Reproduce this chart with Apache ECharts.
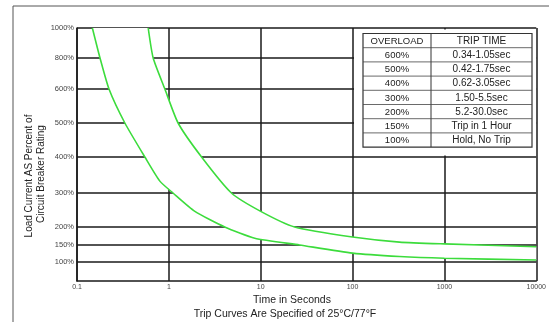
<!DOCTYPE html>
<html>
<head>
<meta charset="utf-8">
<title>Trip curves</title>
<script src="https://cdn.jsdelivr.net/npm/echarts@6/dist/echarts.min.js"></script>
<style>
  html, body { margin: 0; padding: 0; background: #fff; }
  #chart { width: 549px; height: 322px; }
</style>
</head>
<body>
<div id="chart"></div>
<script>
// the scan's y scale is irregular: every label gets its own height above the x axis
var yTickLabels = [100, 150, 200, 300, 400, 500, 600, 800, 1000];
var yTickHeights = [19, 36, 54, 88, 124, 158, 192, 223, 253];

var xTicks = [0.1, 1, 10, 100, 1000, 10000];

// lower (fast) trip curve: seconds / percent load
var fastTime = [0.147, 0.178, 0.223, 0.332, 0.548, 0.798, 1.11, 1.92, 4.06, 8.61, 26.5, 100, 324, 1000, 10000];
var fastLoad = [1000, 800, 600, 500, 400, 333, 300, 246, 200, 169, 150, 126, 116, 111, 106];

// upper (slow) trip curve
var slowTime = [0.596, 0.675, 0.905, 1.26, 2.27, 4.8, 10, 23.4, 100, 324, 1000, 10000];
var slowLoad = [1000, 800, 600, 500, 400, 300, 246, 200, 172, 158, 153, 145];

// table
var overload = ['600%', '500%', '400%', '300%', '200%', '150%', '100%'];
var tripTime = ['0.34-1.05sec', '0.42-1.75sec', '0.62-3.05sec', '1.50-5.5sec', '5.2-30.0sec', 'Trip in 1 Hour', 'Hold, No Trip'];

var anchorsP = [50].concat(yTickLabels);
var anchorsH = [0].concat(yTickHeights);

// percent -> position on the (piecewise) y axis
function toAxis(p) {
    for (var i = 1; i < anchorsP.length; i++) {
        if (p <= anchorsP[i]) {
            var f = (p - anchorsP[i - 1]) / (anchorsP[i] - anchorsP[i - 1]);
            return anchorsH[i - 1] + f * (anchorsH[i] - anchorsH[i - 1]);
        }
    }
    return anchorsH[anchorsH.length - 1];
}

function pairs(ts, ps) {
    return ts.map(function (t, i) { return [t, toAxis(ps[i])]; });
}
var fastData = pairs(fastTime, fastLoad);
var slowData = pairs(slowTime, slowLoad);

var chart = echarts.init(document.getElementById('chart'));

var font = 'Liberation Sans, Arial, sans-serif';
var gridColor = '#1a1a1a';
var curveColor = '#3cdc3c';

// table graphics
var tLeft = 363, tRight = 532, tDiv = 431, tTop = 33.5, rowH = 14.2;
var tableEls = [];
tableEls.push({
    type: 'rect', shape: { x: 354, y: 29.5, width: 182, height: 126 },
    style: { fill: '#fff' }, z: 10
});
var rows = [['OVERLOAD', 'TRIP TIME']].concat(overload.map(function (o, i) { return [o, tripTime[i]]; }));
tableEls.push({
    type: 'rect', shape: { x: tLeft, y: tTop, width: tRight - tLeft, height: rowH * rows.length },
    style: { fill: 'none', stroke: '#333', lineWidth: 1.2 }, z: 11
});
tableEls.push({
    type: 'line', shape: { x1: tDiv, y1: tTop, x2: tDiv, y2: tTop + rowH * rows.length },
    style: { stroke: '#333', lineWidth: 1 }, z: 11
});
rows.forEach(function (r, i) {
    var yc = tTop + rowH * (i + 0.5);
    if (i > 0) {
        tableEls.push({
            type: 'line', shape: { x1: tLeft, y1: tTop + rowH * i, x2: tRight, y2: tTop + rowH * i },
            style: { stroke: '#444', lineWidth: 0.8 }, z: 11
        });
    }
    tableEls.push({
        type: 'text', x: (tLeft + tDiv) / 2, y: yc + 0.5, z: 12,
        style: { text: r[0], font: '9.5px ' + font, fill: '#222', align: 'center', verticalAlign: 'middle' }
    });
    tableEls.push({
        type: 'text', x: (tDiv + tRight) / 2, y: yc + 0.5, z: 12,
        style: { text: r[1], font: '10px ' + font, fill: '#222', align: 'center', verticalAlign: 'middle' }
    });
});

var option = {
    backgroundColor: '#fff',
    animation: false,
    grid: { left: 77, right: 12, top: 28, bottom: 41 },
    xAxis: {
        type: 'log',
        logBase: 10,
        min: 0.1,
        max: 10000,
        axisLine: { show: true, lineStyle: { color: gridColor, width: 1.5 } },
        axisTick: { show: false },
        axisLabel: {
            fontSize: 7, color: '#444', margin: 3, fontFamily: font,
            formatter: function (v) {
                for (var i = 0; i < xTicks.length; i++) {
                    if (Math.abs(v - xTicks[i]) / xTicks[i] < 1e-6) return String(xTicks[i]);
                }
                return '';
            }
        },
        splitLine: { show: true, lineStyle: { color: gridColor, width: 1.5 } }
    },
    yAxis: {
        type: 'value',
        min: 0,
        max: 253,
        axisLine: { show: true, lineStyle: { color: gridColor, width: 1.5 } },
        axisTick: { show: false, customValues: yTickHeights },
        axisLabel: {
            customValues: yTickHeights,
            fontSize: 7.5, color: '#444', margin: 3, fontFamily: font,
            formatter: function (v) {
                var i = yTickHeights.indexOf(v);
                return i >= 0 ? yTickLabels[i] + '%' : '';
            }
        },
        splitLine: { show: true, lineStyle: { color: gridColor, width: 1.5 } }
    },
    graphic: [
        { type: 'line', shape: { x1: 13, y1: 6, x2: 549, y2: 6 }, style: { stroke: '#555', lineWidth: 1 } },
        { type: 'line', shape: { x1: 13, y1: 6, x2: 13, y2: 322 }, style: { stroke: '#555', lineWidth: 1 } },
        {
            type: 'text', x: 292, y: 300.5,
            style: { text: 'Time in Seconds', font: '10.5px ' + font, fill: '#222', align: 'center', verticalAlign: 'middle' }
        },
        {
            type: 'text', x: 285, y: 314,
            style: { text: 'Trip Curves Are Specified of 25°C/77°F', font: '10.5px ' + font, fill: '#222', align: 'center', verticalAlign: 'middle' }
        },
        {
            type: 'text', x: 29, y: 176, rotation: Math.PI / 2,
            style: { text: 'Load Current AS Percent of', font: '10px ' + font, fill: '#222', align: 'center', verticalAlign: 'middle' }
        },
        {
            type: 'text', x: 41, y: 174, rotation: Math.PI / 2,
            style: { text: 'Circuit Breaker Rating', font: '10px ' + font, fill: '#222', align: 'center', verticalAlign: 'middle' }
        }
    ].concat(tableEls),
    series: [
        {
            // white band between the two curves (hides the grid there)
            type: 'custom',
            z: 1,
            silent: true,
            data: [0],
            renderItem: function (params, api) {
                var pts = slowData.map(function (d) { return api.coord(d); });
                var low = fastData.slice().reverse().map(function (d) { return api.coord(d); });
                return {
                    type: 'polygon',
                    shape: { points: pts.concat(low) },
                    style: { fill: '#fff' }
                };
            }
        },
        {
            type: 'line', data: fastData, z: 3, symbol: 'none', smooth: 0.2,
            lineStyle: { color: curveColor, width: 1.6 }
        },
        {
            type: 'line', data: slowData, z: 3, symbol: 'none', smooth: 0.2,
            lineStyle: { color: curveColor, width: 1.6 }
        }
    ]
};

chart.setOption(option);
</script>
</body>
</html>
